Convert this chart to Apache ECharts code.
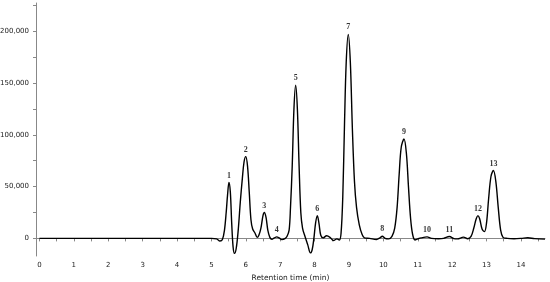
<!DOCTYPE html>
<html>
<head>
<meta charset="utf-8">
<script src="https://cdn.jsdelivr.net/npm/echarts@6/dist/echarts.min.js"></script>
<style>html,body{margin:0;padding:0;background:#fff}#c{width:550px;height:282px}</style>
</head>
<body>
<div id="c"></div>
<script>
// Retention time (min) and detector signal
const times = [0, 2, 4, 5.0, 5.15, 5.25, 5.32, 5.38, 5.43, 5.47, 5.51, 5.55, 5.59, 5.63, 5.67, 5.72, 5.78, 5.84, 5.9, 5.95, 6.0, 6.05, 6.1, 6.15, 6.2, 6.27, 6.33, 6.38, 6.44, 6.5, 6.54, 6.59, 6.64, 6.7, 6.76, 6.83, 6.9, 6.97, 7.05, 7.15, 7.2, 7.26, 7.3, 7.35, 7.4, 7.45, 7.5, 7.55, 7.6, 7.65, 7.72, 7.8, 7.88, 7.93, 7.98, 8.03, 8.08, 8.13, 8.18, 8.25, 8.35, 8.45, 8.55, 8.65, 8.72, 8.77, 8.82, 8.87, 8.92, 8.98, 9.04, 9.1, 9.16, 9.22, 9.3, 9.38, 9.45, 9.6, 9.8, 9.9, 9.97, 10.05, 10.15, 10.25, 10.33, 10.4, 10.46, 10.52, 10.6, 10.67, 10.73, 10.79, 10.85, 10.92, 11.0, 11.1, 11.27, 11.4, 11.6, 11.75, 11.92, 12.05, 12.15, 12.33, 12.45, 12.55, 12.63, 12.7, 12.75, 12.8, 12.87, 12.94, 13.0, 13.06, 13.13, 13.2, 13.27, 13.34, 13.41, 13.48, 13.6, 13.8, 14.0, 14.2, 14.4, 14.7];
const signal = [0, 0, 0, 0, -500, -2500, -1000, 8000, 25000, 42000, 54000, 45000, 15000, -8000, -14500, -10000, 8000, 35000, 58000, 74000, 79000, 70000, 45000, 18000, 9000, 5000, 1000, 3000, 10000, 22000, 25000, 20000, 8000, 1000, -800, 500, 1500, 500, -1200, 0, 2000, 8000, 30000, 70000, 125000, 148000, 125000, 70000, 25000, 10000, 2000, -6000, -14000, -11000, 0, 15000, 22000, 14000, 3000, 500, 2500, 1000, -2000, -500, -1500, 5000, 40000, 110000, 170000, 197000, 170000, 105000, 55000, 30000, 13000, 4000, 500, 0, -1000, 500, 2000, 0, -500, 2000, 10000, 30000, 62000, 88000, 96000, 82000, 50000, 20000, 4000, -1500, -500, 500, 1500, 0, -300, 0, 1800, -200, -500, 1200, -300, 2000, 10000, 19000, 22000, 19000, 9000, 6500, 15000, 38000, 60000, 65500, 55000, 30000, 8000, 1000, 0, -300, 0, 600, -200, -700];

// Peak numbering
const peakNames = ['1','2','3','4','5','6','7','8','9','10','11','12','13'];
const peakTimes = [5.51, 6.0, 6.54, 6.9, 7.45, 8.08, 8.98, 9.97, 10.6, 11.27, 11.92, 12.75, 13.2];
const peakHeights = [54000, 79000, 25000, 1500, 148000, 22000, 197000, 2000, 96000, 1500, 1800, 22000, 65500];

// Axis ticks
const xLabels = [0,1,2,3,4,5,6,7,8,9,10,11,12,13,14];
const xTicks = [0,0.5,1,1.5,2,2.5,3,3.5,4,4.5,5,5.5,6,6.5,7,7.5,8,8.5,9,9.5,10,10.5,11,11.5,12,12.5,13,13.5,14,14.5];
const yLabels = [0, 50000, 100000, 150000, 200000];
const yTicks = [0, 25000, 50000, 75000, 100000, 125000, 150000, 175000, 200000, 225000];

const chart = echarts.init(document.getElementById('c'), null, {renderer: 'canvas'});
const lineData = times.map((t, i) => [t, signal[i]]);
const peakData = peakTimes.map((t, i) => ({value: [t, peakHeights[i]], name: peakNames[i]}));
const axisFont = {fontFamily: 'DejaVu Sans', fontSize: 7, color: '#222'};

chart.setOption({
  animation: false,
  backgroundColor: '#fff',
  grid: {left: 36, right: 5, top: 3, bottom: 26, containLabel: false, outerBoundsMode: 'none'},
  xAxis: {
    type: 'value', min: -0.1, max: 14.7,
    splitLine: {show: false},
    axisLine: {show: true, lineStyle: {color: '#888', width: 1}},
    axisTick: {show: true, customValues: xTicks, length: 3, lineStyle: {color: '#888'}},
    axisLabel: Object.assign({customValues: xLabels, margin: 6, formatter: v => String(v)}, axisFont),
    name: 'Retention time (min)', nameLocation: 'middle', nameGap: 14,
    nameTextStyle: {fontFamily: 'DejaVu Sans', fontSize: 7.5, color: '#222'}
  },
  yAxis: {
    type: 'value', min: -17000, max: 227300,
    splitLine: {show: false},
    axisLine: {show: true, onZero: false, lineStyle: {color: '#888', width: 1}},
    axisTick: {show: true, customValues: yTicks, length: 3, lineStyle: {color: '#888'}},
    axisLabel: Object.assign({customValues: yLabels, margin: 7,
      formatter: v => v.toLocaleString('en-US')}, axisFont)
  },
  series: [
    {
      type: 'line', data: lineData, smooth: 0.35, showSymbol: false, symbol: 'none',
      lineStyle: {color: '#000', width: 1.4}, z: 2
    },
    {
      type: 'scatter', data: peakData, symbolSize: 0, silent: true,
      label: {show: true, position: 'top', distance: 3, formatter: p => p.name,
        fontFamily: 'Liberation Serif', fontWeight: 'bold', fontSize: 8, color: '#000'},
      z: 3
    }
  ]
});
</script>
</body>
</html>
